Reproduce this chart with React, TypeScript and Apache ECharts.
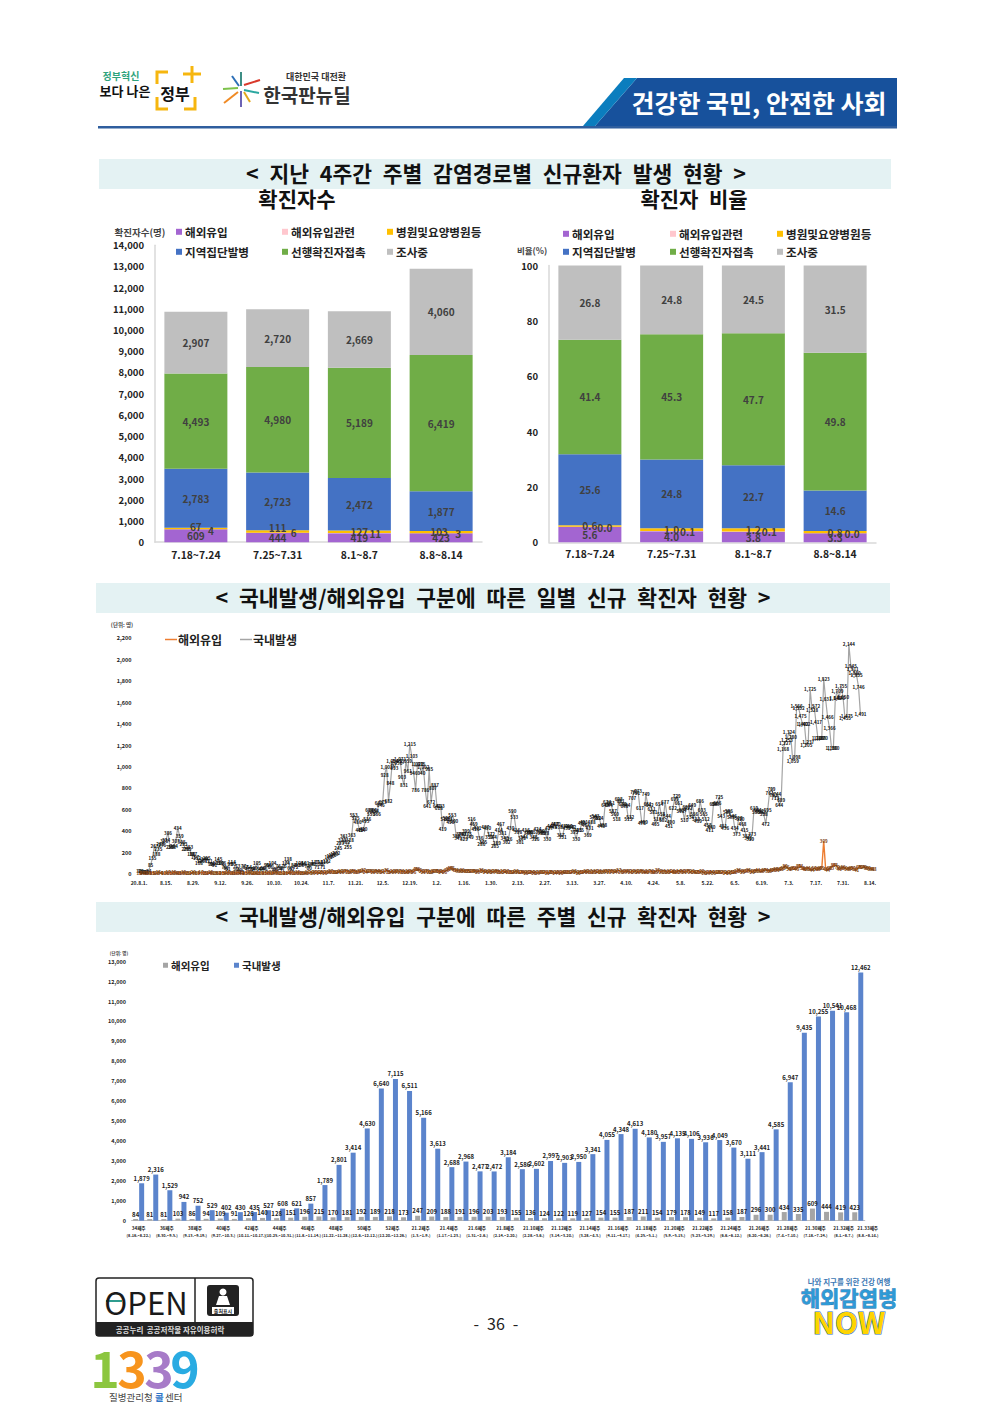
import React, { useEffect, useRef } from "react";
import * as echarts from "echarts";

const FONT = '"Noto Sans CJK KR", "Noto Sans", sans-serif';

// ---- top charts
const periods = ["7.18~7.24", "7.25~7.31", "8.1~8.7", "8.8~8.14"];
const routeNames = ["해외유입", "해외유입관련", "병원및요양병원등", "지역집단발병", "선행확진자접촉", "조사중"];
const importedCount = [609, 444, 419, 423];
const importRelatedCount = [4, 6, 11, 3];
const hospitalCount = [67, 111, 127, 103];
const clusterCount = [2783, 2723, 2472, 1877];
const contactCount = [4493, 4980, 5189, 6419];
const investigatingCount = [2907, 2720, 2669, 4060];
const importedPct = [5.6, 4.0, 3.8, 3.3];
const importRelatedPct = [0.0, 0.1, 0.1, 0.0];
const hospitalPct = [0.6, 1.0, 1.2, 0.8];
const clusterPct = [25.6, 24.8, 22.7, 14.6];
const contactPct = [41.4, 45.3, 47.7, 49.8];
const investigatingPct = [26.8, 24.8, 24.5, 31.5];
const routeColors = ["#A365D1", "#FFC7CE", "#FFC000", "#4472C4", "#70AD47", "#BFBFBF"];

// ---- daily chart
const dayTickLabels = ["20.8.1.", "8.15.", "8.29.", "9.12.", "9.26.", "10.10.", "10.24.", "11.7.", "11.21.", "12.5.", "12.19.", "1.2.", "1.16.", "1.30.", "2.13.", "2.27.", "3.13.", "3.27.", "4.10.", "4.24.", "5.8.", "5.22.", "6.5.", "6.19.", "7.3.", "7.17.", "7.31.", "8.14."];
const domesticDaily = [
  30, 28, 23, 20, 25, 34, 85, 155, 267, 188,
  235, 283, 276, 315, 324, 386, 258, 258, 264, 307,
  434, 359, 305, 283, 238, 235, 253, 188, 187, 157,
  152, 108, 120, 133, 144, 155, 121, 99, 98, 91,
  105, 145, 109, 106, 70, 61, 51, 99, 114, 95,
  50, 73, 40, 23, 77, 67, 47, 64, 50, 54,
  60, 105, 54, 47, 58, 46, 91, 84, 66, 104,
  40, 51, 76, 58, 47, 76, 104, 138, 61, 52,
  88, 72, 91, 101, 88, 96, 101, 74, 60, 94,
  99, 117, 71, 118, 99, 71, 113, 122, 162, 166,
  176, 193, 202, 245, 293, 320, 361, 302, 255, 318,
  363, 553, 525, 486, 413, 414, 420, 493, 516, 600,
  559, 600, 594, 566, 662, 646, 673, 928, 1002, 682,
  848, 1054, 993, 1036, 1053, 1071, 903, 831, 1059, 961,
  1215, 1103, 946, 786, 1029, 1025, 940, 1002, 786, 641,
  985, 672, 807, 837, 641, 618, 633, 419, 511, 524,
  513, 490, 553, 500, 355, 341, 374, 380, 329, 399,
  375, 349, 516, 469, 426, 431, 336, 286, 305, 437,
  430, 351, 372, 344, 265, 289, 414, 467, 381, 343,
  302, 326, 430, 590, 533, 416, 398, 301, 335, 344,
  416, 388, 395, 395, 345, 326, 424, 398, 385, 399,
  388, 330, 427, 447, 445, 467, 470, 438, 367, 351,
  451, 431, 447, 438, 442, 395, 330, 415, 415, 480,
  491, 464, 369, 431, 488, 533, 543, 521, 524, 449,
  458, 648, 674, 644, 661, 587, 560, 518, 698, 681,
  658, 639, 644, 515, 532, 707, 771, 761, 773, 617,
  478, 489, 749, 651, 642, 611, 581, 465, 518, 654,
  558, 502, 677, 544, 451, 490, 622, 699, 729, 661,
  592, 604, 510, 632, 622, 534, 649, 566, 513, 499,
  686, 603, 565, 512, 458, 411, 440, 654, 653, 666,
  725, 543, 451, 436, 585, 586, 538, 546, 434, 373,
  528, 520, 468, 415, 357, 341, 329, 373, 619, 583,
  601, 592, 582, 558, 472, 595, 761, 799, 741, 713,
  744, 644, 689, 1168, 1227, 1253, 1324, 1280, 1059, 1098,
  1566, 1552, 1475, 1402, 1402, 1205, 1237, 1725, 1528, 1572,
  1417, 1268, 1268, 1270, 1823, 1631, 1466, 1366, 1180, 1180,
  1640, 1709, 1640, 1755, 1650, 1455, 1475, 2144, 1945, 1911,
  1880, 1855, 1746, 1491,
];
const overseasDaily = [
  12, 9, 14, 11, 16, 13, 8, 15, 10, 12,
  18, 14, 9, 13, 11, 17, 15, 12, 19, 14,
  10, 16, 13, 18, 12, 15, 11, 14, 20, 16,
  13, 9, 17, 12, 15, 10, 14, 18, 11, 13,
  16, 12, 9, 15, 14, 11, 18, 13, 10, 16,
  12, 17, 14, 11, 9, 15, 13, 18, 12, 10,
  14, 11, 16, 13, 9, 15, 12, 17, 10, 14,
  13, 18, 11, 15, 12, 9, 16, 14, 19, 13,
  11, 15, 18, 12, 16, 14, 10, 17, 13, 20,
  15, 22, 18, 14, 25, 20, 16, 23, 19, 27,
  21, 26, 18, 24, 30, 22, 27, 33, 25, 20,
  29, 35, 26, 23, 31, 28, 37, 24, 32, 27,
  30, 22, 28, 34, 25, 31, 21, 27, 36, 26,
  24, 29, 19, 33, 27, 22, 30, 25, 18, 28,
  23, 31, 26, 46, 50, 42, 29, 21, 27, 32,
  25, 22, 30, 27, 35, 28, 24, 33, 26, 36,
  52, 58, 55, 41, 38, 33, 30, 36, 28, 32,
  35, 30, 27, 34, 29, 25, 31, 36, 28, 24,
  32, 26, 30, 23, 28, 33, 25, 21, 29, 24,
  27, 20, 25, 18, 23, 28, 21, 17, 24, 19,
  15, 22, 18, 24, 16, 20, 13, 19, 23, 17,
  21, 15, 18, 25, 20, 14, 19, 22, 16, 24,
  18, 21, 26, 17, 23, 28, 20, 16, 25, 19,
  24, 30, 22, 27, 18, 25, 32, 21, 28, 23,
  26, 33, 27, 22, 35, 29, 24, 31, 37, 26,
  30, 23, 34, 27, 21, 29, 25, 32, 22, 28,
  35, 24, 19, 27, 23, 30, 18, 26, 37, 29,
  22, 33, 25, 20, 31, 24, 28, 19, 26, 34,
  23, 30, 22, 27, 35, 21, 29, 24, 17, 25,
  20, 28, 16, 22, 13, 19, 24, 15, 21, 18,
  26, 17, 23, 14, 20, 16, 25, 19, 22, 28,
  36, 30, 25, 33, 27, 38, 31, 26, 35, 29,
  41, 34, 28, 37, 44, 33, 30, 42, 36, 48,
  39, 52, 45, 58, 80, 66, 51, 47, 62, 55,
  49, 82, 74, 58, 46, 53, 61, 50, 44, 57,
  52, 48, 60, 55, 309, 49, 44, 58, 63, 87,
  84, 70, 46, 55, 66, 60, 53, 49, 62, 57,
  50, 41, 68, 72, 64, 70, 59, 62, 54, 51,
  48,
];

// ---- weekly chart
const weekTickLabels = ["34째주\n(8.16.~8.22.)", "36째주\n(8.30.~9.5.)", "38째주\n(9.13.~9.19.)", "40째주\n(9.27.~10.3.)", "42째주\n(10.11.~10.17.)", "44째주\n(10.25.~10.31.)", "46째주\n(11.8.~11.14.)", "48째주\n(11.22.~11.28.)", "50째주\n(12.6.~12.12.)", "52째주\n(12.20.~12.26.)", "21.2째주\n(1.3.~1.9.)", "21.4째주\n(1.17.~1.23.)", "21.6째주\n(1.31.~2.6.)", "21.8째주\n(2.14.~2.20.)", "21.10째주\n(2.28.~3.6.)", "21.12째주\n(3.14.~3.20.)", "21.14째주\n(3.28.~4.3.)", "21.16째주\n(4.11.~4.17.)", "21.18째주\n(4.25.~5.1.)", "21.20째주\n(5.9.~5.15.)", "21.22째주\n(5.23.~5.29.)", "21.24째주\n(6.6.~6.12.)", "21.26째주\n(6.20.~6.26.)", "21.28째주\n(7.4.~7.10.)", "21.30째주\n(7.18.~7.24.)", "21.32째주\n(8.1.~8.7.)"];
const lastWeekName = "21.33째주";
const lastWeekRange = "(8.8.~8.14.)";
const domesticWeekly = [1879, 2316, 1529, 942, 752, 529, 402, 430, 435, 527, 608, 621, 857, 1789, 2801, 3414, 4630, 6640, 7115, 6511, 5166, 3613, 2688, 2968, 2477, 2472, 3184, 2586, 2602, 2997, 2903, 2950, 3341, 4055, 4348, 4613, 4180, 3957, 4135, 4106, 3936, 4049, 3670, 3111, 3441, 4585, 6947, 9435, 10255, 10541, 10468, 12462];
const overseasWeekly = [84, 81, 81, 103, 86, 94, 109, 91, 126, 140, 128, 151, 196, 215, 170, 181, 192, 189, 218, 173, 247, 209, 188, 191, 196, 203, 193, 155, 136, 124, 122, 119, 127, 154, 155, 187, 211, 154, 179, 178, 149, 117, 158, 187, 296, 300, 434, 335, 609, 444, 419, 423];

const fmt = (v: number) => v.toLocaleString("en-US");

function t(text: string, x: number, y: number, size: number, fill = "#111", weight: any = "bold", align = "center", extra: any = {}) {
  return {
    type: "text", x, y, z: 10, silent: true,
    style: { text, fontSize: size, fontWeight: weight, fontFamily: FONT, fill, align, textAlign: align, verticalAlign: "middle", textVerticalAlign: "middle", ...extra },
  };
}
const rect = (x: number, y: number, w: number, h: number, fill: string, z = 1, r: any = 0, extra: any = {}) => ({
  type: "rect", z, silent: true, shape: { x, y, width: w, height: h, r }, style: { fill, ...extra },
});
const seg = (x1: number, y1: number, x2: number, y2: number, stroke: string, lineWidth = 2) => ({
  type: "line", z: 5, silent: true, shape: { x1, y1, x2, y2 }, style: { stroke, lineWidth },
});
const poly = (points: number[][], fill: string) => ({ type: "polygon", z: 3, silent: true, shape: { points }, style: { fill } });
const bracket = (points: number[][]) => ({ type: "polyline", z: 5, silent: true, shape: { points }, style: { stroke: "#F6B60F", lineWidth: 3, fill: "none" } });

const pageGraphics = [
  // header
  t("정부혁신", 121, 75, 10, "#2FA37C"),
  t("보다 나은", 125, 90, 13, "#111"),
  t("정부", 175, 93, 16, "#111"),
  bracket([[168, 72], [157, 72], [157, 84]]),
  bracket([[157, 97], [157, 109], [168, 109]]),
  bracket([[184, 109], [195, 109], [195, 97]]),
  seg(183, 74, 201, 74, "#F6B60F", 3),
  seg(192, 66, 192, 83, "#F6B60F", 3),
  seg(241, 72, 241, 86, "#3E8E85", 2),
  seg(241, 91, 241, 107, "#6C63B5", 2),
  seg(224, 103, 238, 92, "#F08A24", 2),
  seg(244, 85, 260, 80, "#D9392B", 2),
  seg(223, 89, 238, 88, "#7DC24B", 2),
  seg(244, 90, 259, 93, "#2AA7A0", 2),
  seg(232, 76, 239, 86, "#2C6FB7", 2),
  seg(244, 92, 250, 102, "#E3A81C", 2),
  t("대한민국 대전환", 316, 76, 9, "#333"),
  t("한국판뉴딜", 307, 94, 19, "#333"),
  poly([[637, 78], [897, 78], [897, 126], [595, 126]], "#17519C"),
  poly([[624, 78], [637, 78], [595, 126], [583, 126]], "#0B7DBE"),
  rect(98, 126, 799, 2.5, "#2F5E9E", 4),
  t("건강한 국민, 안전한 사회", 759, 102, 25, "#fff"),
  // section heads
  rect(99, 159, 792, 30, "#E4F2F3"),
  t("<\u2002지난\u20024주간\u2002주별\u2002감염경로별\u2002신규환자\u2002발생\u2002현황\u2002>", 496, 172, 21.5),
  t("확진자수", 297, 198, 21),
  t("확진자\u2002비율", 694, 198, 21),
  rect(96, 583, 794, 30, "#E4F2F3"),
  t("<\u2002국내발생/해외유입\u2002구분에\u2002따른\u2002일별\u2002신규\u2002확진자\u2002현황\u2002>", 493, 596, 21.5),
  rect(96, 902, 794, 30, "#E4F2F3"),
  t("<\u2002국내발생/해외유입\u2002구분에\u2002따른\u2002주별\u2002신규\u2002확진자\u2002현황\u2002>", 493, 915, 21.5),
  // axis captions
  t("확진자수(명)", 140, 232, 9.5, "#444", "bold"),
  t("비율(%)", 532, 250, 8.5, "#444", "bold"),
  t("(단위: 명)", 122, 625, 5.5, "#444", "bold"),
  t("(단위: 명)", 119, 953, 4.5, "#444", "bold"),
  t(lastWeekName, 867.7, 1228, 4.6, "#222"),
  t(lastWeekRange, 867.7, 1235, 3.9, "#222"),
  // footer
  rect(96, 1278, 157, 58, "#fff", 3, 3, { stroke: "#222", lineWidth: 1.5 }),
  rect(96, 1322, 157, 14, "#222", 4),
  seg(195, 1278, 195, 1322, "#222", 1.5),
  t("OPEN", 146, 1301, 31, "#1a1a1a", "normal"),
  seg(106, 1301, 122, 1301, "#2E9C8F", 2),
  t("공공누리  공공저작물 자유이용허락", 170, 1329, 7.5, "#ddd"),
  rect(207, 1285, 32, 31, "#222", 5, 3),
  { type: "circle", z: 6, silent: true, shape: { cx: 223, cy: 1292, r: 3.5 }, style: { fill: "#fff" } },
  { type: "polygon", z: 6, silent: true, shape: { points: [[219, 1296], [227, 1296], [230, 1305], [216, 1305]] }, style: { fill: "#fff" } },
  rect(212, 1307, 22, 7, "#fff", 6),
  t("출처표시", 223, 1310.5, 5, "#222"),
  t("-\u200236\u2002-", 496, 1323, 16, "#222", "normal"),
  t("1", 105, 1366, 50, "#8CC63F"),
  t("3", 132, 1366, 50, "#F7941D"),
  t("3", 159, 1366, 50, "#A77BC8"),
  t("9", 185, 1366, 50, "#29ABE2"),
  t("질병관리청", 109, 1397, 9.5, "#444", "normal", "left"),
  t("콜", 155, 1397, 9.5, "#2E75C8", "bold", "left"),
  t("센터", 165, 1397, 9.5, "#444", "normal", "left"),
  t("나와 지구를 위한 건강 여행", 849, 1281, 7.5, "#3C78B4", "bold"),
  t("해외감염병", 849, 1297, 21, "#2E9AD6", "bold", "center", { stroke: "#1B5E9A", lineWidth: 0.6 }),
  t("NOW", 849, 1321, 30, "#FFD400", "bold", "center", { stroke: "#2A74B8", lineWidth: 1.2 }),
];

const legendOf = (name: string, label: string, left: number, top: number, size: number, extra: any = {}) => ({
  show: true, left, top, padding: 0, selectedMode: false, icon: "rect", itemWidth: 6, itemHeight: 6, itemGap: 0,
  data: [name], formatter: () => label,
  textStyle: { fontSize: size, fontWeight: "bold", color: "#222", fontFamily: FONT, padding: [0, 0, 0, -2] },
  ...extra,
});

const smallOffset: number[][] = [[0, 0], [0, 0], [0, 0], [0, 0]];
const hospitalOffset: number[][] = [[0, -2], [0, -4], [0, 0], [-2, -1]];
const relatedOffset: number[][] = [[15, 1], [16, 0], [16, 0], [17, 0]];

function stackSeries(values: number[][], gridAxis: number, stack: string, format: (v: number) => string, offsets: number[][][]) {
  return values.map((vals, s) => ({
    type: "bar", name: routeNames[s], stack, xAxisIndex: gridAxis, yAxisIndex: gridAxis, barWidth: 63,
    itemStyle: { color: routeColors[s] }, silent: true,
    data: vals.map((v, i) => ({
      value: v,
      label: { show: true, position: "inside", offset: offsets[s][i], formatter: () => format(v), fontSize: 10, fontWeight: "bold", color: "#404040", fontFamily: FONT },
    })),
  }));
}

export default function App() {
  const ref = useRef<HTMLDivElement>(null);
  useEffect(() => {
    document.body.style.margin = "0";
    const chart = echarts.init(ref.current!, null, { renderer: "svg" });
    const axisLabelBase = { fontFamily: FONT, fontWeight: "bold", color: "#222" };
    const valueAxis = (gridIndex: number, max: number, interval: number, size: number, margin: number, line: boolean, formatter: any = (v: number) => fmt(v)) => ({
      type: "value", gridIndex, min: 0, max, interval,
      splitLine: { show: false }, axisTick: { show: false },
      axisLine: { show: line, lineStyle: { color: "#D9D9D9", width: 1.5 } },
      axisLabel: { ...axisLabelBase, fontSize: size, margin, formatter },
    });
    const catAxis = (gridIndex: number, data: any[], extra: any = {}) => ({
      type: "category", gridIndex, data, axisTick: { show: false },
      axisLine: { lineStyle: { color: "#D9D9D9", width: 1.5 } }, ...extra,
    });
    const dayCategories = overseasDaily.map((_, i) => (i % 14 === 0 ? dayTickLabels[i / 14] : ""));
    const weekCategories: any[] = domesticWeekly.map((_, i) => (i % 2 === 0 ? weekTickLabels[i / 2] : `w${i}`));
    const names1 = routeNames;
    chart.setOption({
      animation: false,
      backgroundColor: "#fff",
      graphic: { elements: pageGraphics },
      grid: [
        { left: 155, top: 245.2, width: 327, height: 297 },
        { left: 549, top: 265.5, width: 327, height: 276.8 },
        { left: 139, top: 638.3, width: 735, height: 236 },
        { left: 131.6, top: 961.7, width: 733.2, height: 259 },
      ],
      xAxis: [
        catAxis(0, periods, { axisLabel: { ...axisLabelBase, fontSize: 10.3, margin: 7, interval: 0 } }),
        catAxis(1, periods, { axisLabel: { ...axisLabelBase, fontSize: 10.3, margin: 6, interval: 0 } }),
        catAxis(2, dayCategories, { boundaryGap: false, axisLine: { show: false }, axisLabel: { ...axisLabelBase, fontSize: 5, margin: 6, interval: 13 } }),
        catAxis(3, weekCategories, {
          axisLine: { lineStyle: { color: "#BFBFBF", width: 1 } },
          axisLabel: {
            ...axisLabelBase, fontSize: 3.9, lineHeight: 7, margin: 4, showMaxLabel: true, showMinLabel: true,
            interval: (i: number) => i % 2 === 0,
            formatter: (v: string) => {
              const [name, range] = v.split("\n");
              return `{a|${name}}\n{b|${range}}`;
            },
            rich: {
              a: { fontSize: 4.6, lineHeight: 7, fontWeight: "bold", color: "#222", fontFamily: FONT },
              b: { fontSize: 3.9, lineHeight: 7, fontWeight: "bold", color: "#222", fontFamily: FONT },
            },
          },
        }),
      ],
      yAxis: [
        valueAxis(0, 14000, 1000, 9.5, 11, true),
        valueAxis(1, 100, 20, 9.5, 11, true),
        valueAxis(2, 2200, 200, 5.5, 7.5, false),
        valueAxis(3, 13000, 1000, 5.5, 5.5, false),
      ],
      legend: [
        legendOf(names1[0], "해외유입", 176, 226, 11.6),
        legendOf(names1[1], "해외유입관련", 282, 226, 11.6),
        legendOf(names1[2], "병원및요양병원등", 387, 226, 11.6),
        legendOf(names1[3], "지역집단발병", 176, 246, 11.6),
        legendOf(names1[4], "선행확진자접촉", 282, 246, 11.6),
        legendOf(names1[5], "조사중", 387, 246, 11.6),
        legendOf(names1[0], "해외유입", 563, 228, 11.6),
        legendOf(names1[1], "해외유입관련", 670, 228, 11.6),
        legendOf(names1[2], "병원및요양병원등", 777, 228, 11.6),
        legendOf(names1[3], "지역집단발병", 563, 246, 11.6),
        legendOf(names1[4], "선행확진자접촉", 670, 246, 11.6),
        legendOf(names1[5], "조사중", 777, 246, 11.6),
        legendOf("해외유입(일별)", "해외유입", 165, 633.5, 12, { itemWidth: 12, itemHeight: 1.5, textStyle: { fontSize: 12, fontWeight: "bold", color: "#222", fontFamily: FONT, padding: [0, 0, 0, -4] } }),
        legendOf("국내발생(일별)", "국내발생", 240, 633.5, 12, { itemWidth: 12, itemHeight: 1.5, textStyle: { fontSize: 12, fontWeight: "bold", color: "#222", fontFamily: FONT, padding: [0, 0, 0, -4] } }),
        legendOf("해외유입(주별)", "해외유입", 163, 960, 10.5, { itemWidth: 5, itemHeight: 5 }),
        legendOf("국내발생(주별)", "국내발생", 234, 960, 10.5, { itemWidth: 5, itemHeight: 5 }),
      ],
      series: [
        ...stackSeries([importedCount, importRelatedCount, hospitalCount, clusterCount, contactCount, investigatingCount], 0, "count", fmt,
          [smallOffset, relatedOffset, hospitalOffset, smallOffset, smallOffset, smallOffset]),
        ...stackSeries([importedPct, importRelatedPct, hospitalPct, clusterPct, contactPct, investigatingPct], 1, "pct", (v) => v.toFixed(1),
          [smallOffset, relatedOffset, smallOffset, smallOffset, smallOffset, smallOffset]),
        {
          type: "line", name: "국내발생(일별)", xAxisIndex: 2, yAxisIndex: 2, data: domesticDaily, symbol: "circle", symbolSize: 0, silent: true,
          itemStyle: { color: "#A5A5A5" }, lineStyle: { color: "#A5A5A5", width: 1.2 },
          label: { show: true, position: "inside", fontSize: 4.5, fontWeight: "bold", color: "#111", fontFamily: FONT, formatter: (p: any) => fmt(p.value) },
        },
        {
          type: "line", name: "해외유입(일별)", xAxisIndex: 2, yAxisIndex: 2, data: overseasDaily, symbol: "circle", symbolSize: 0, silent: true,
          itemStyle: { color: "#ED7D31" }, lineStyle: { color: "#ED7D31", width: 1.4 },
          label: { show: true, position: "inside", fontSize: 4.4, fontWeight: "bold", color: "#7A3E10", fontFamily: FONT, formatter: (p: any) => fmt(p.value) },
        },
        {
          type: "bar", name: "해외유입(주별)", xAxisIndex: 3, yAxisIndex: 3, data: overseasWeekly, barWidth: 5, barGap: "20%", silent: true,
          itemStyle: { color: "#A5A5A5" },
          label: { show: true, position: "top", distance: 2, fontSize: 6, fontWeight: "bold", color: "#222", fontFamily: FONT, formatter: (p: any) => fmt(p.value) },
        },
        {
          type: "bar", name: "국내발생(주별)", xAxisIndex: 3, yAxisIndex: 3, data: domesticWeekly, barWidth: 5, silent: true,
          itemStyle: { color: "#5B84CC" },
          label: { show: true, position: "top", distance: 2, fontSize: 6, fontWeight: "bold", color: "#222", fontFamily: FONT, formatter: (p: any) => fmt(p.value) },
        },
      ],
    });
    return () => chart.dispose();
  }, []);
  return <div ref={ref} style={{ position: "absolute", left: 0, top: 0, width: 992, height: 1403 }} />;
}
